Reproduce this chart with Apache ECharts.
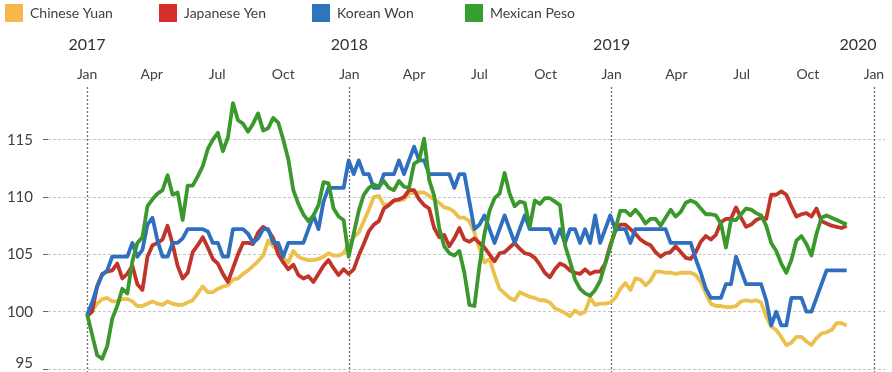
<!DOCTYPE html>
<html><head><meta charset="utf-8">
<script src="https://cdn.jsdelivr.net/npm/echarts@6/dist/echarts.min.js"></script>
<style>html,body{margin:0;padding:0;background:#fff}#c{width:892px;height:372px}</style>
</head><body><div id="c"></div>
<script>
const seriesNames = ['Chinese Yuan', 'Japanese Yen', 'Korean Won', 'Mexican Peso'];
// weekly index values, first week of Jan 2017 = ~100
const yuan = [
99.7,100.1,100.7,101.1,101.2,100.9,100.9,101.1,101.1,100.9,
100.5,100.5,100.7,100.9,100.7,100.6,100.9,100.7,100.6,100.6,
100.8,101.0,101.6,102.2,101.7,101.7,102.0,102.2,102.3,102.8,
102.9,103.3,103.6,104.0,104.4,104.9,106.2,105.7,105.3,104.7,
104.3,105.3,104.8,104.6,104.5,104.5,104.6,104.8,105.1,104.9,
104.9,105.1,105.9,106.5,106.9,107.9,108.9,110.0,110.1,109.3,
109.4,109.7,109.7,109.8,110.3,110.4,110.4,110.4,110.1,109.8,
109.5,109.1,109.0,108.7,108.2,108.2,107.9,106.9,105.5,104.3,
104.6,103.2,102.0,101.6,101.2,101.0,101.7,101.5,101.3,101.2,
101.0,101.0,100.8,100.3,100.1,99.9,99.6,100.1,99.8,100.0,
101.2,100.6,100.7,100.7,100.8,101.2,102.0,102.5,101.9,102.9,
102.8,102.3,102.7,103.5,103.5,103.4,103.4,103.3,103.4,103.4,
103.4,103.2,102.6,101.6,100.7,100.5,100.5,100.4,100.4,100.5,
100.9,101.0,100.9,101.0,100.8,99.6,98.7,98.4,97.8,97.1,
97.3,97.8,97.8,97.4,97.1,97.7,98.1,98.2,98.4,99.0,
99.0,98.8];
const yen = [
99.6,100.0,102.2,103.3,103.5,103.6,104.2,102.9,103.3,104.0,
102.4,101.9,104.8,105.8,106.0,106.3,107.5,105.9,104.0,102.9,
103.4,105.2,105.8,106.5,105.6,104.6,104.2,103.3,102.6,103.8,
105.0,106.0,106.0,105.9,106.9,107.4,107.1,106.4,105.0,104.3,
103.7,104.1,103.2,102.9,103.1,102.6,103.3,104.0,104.5,103.8,
103.2,103.7,103.3,103.7,104.9,105.9,107.0,107.6,107.9,109.0,
109.3,109.7,109.8,110.0,110.6,110.6,109.8,109.3,109.0,107.3,
106.5,106.7,105.7,106.4,107.3,106.3,106.1,106.4,106.0,105.6,
105.0,104.4,105.1,105.2,105.6,106.0,105.5,105.1,105.0,104.7,
104.1,103.4,103.0,103.7,104.2,104.0,103.6,103.4,103.3,103.7,
103.3,103.5,103.5,104.2,105.8,107.0,107.6,107.6,107.2,106.8,
106.3,106.0,105.8,105.2,104.8,105.1,105.2,105.7,105.2,104.7,
104.6,105.2,106.1,106.6,106.3,106.7,107.8,108.1,108.1,109.1,
108.2,107.4,107.6,108.0,108.2,108.1,110.2,110.2,110.5,110.2,
109.2,108.3,108.5,108.6,108.3,109.0,107.9,107.7,107.5,107.4,
107.3,107.5];
const won = [
99.7,100.8,102.2,103.2,103.6,104.8,104.8,104.8,104.8,106.0,
104.8,105.4,107.6,108.2,106.2,104.8,104.8,106.0,106.0,106.4,
107.2,107.2,107.2,107.2,107.0,106.0,106.0,104.8,104.8,107.2,
107.2,107.2,106.8,106.0,106.4,107.2,107.2,106.0,106.0,104.8,
106.0,106.0,106.0,106.0,107.2,108.4,107.2,109.6,110.8,110.8,
110.8,110.8,113.2,112.0,113.2,112.0,112.0,110.8,110.8,112.0,
112.0,112.0,113.2,112.0,113.2,114.4,113.2,113.2,112.0,112.0,
112.0,112.0,112.0,110.8,112.0,112.0,109.6,107.2,107.6,108.4,
107.2,106.0,107.2,108.4,107.2,106.0,107.2,108.4,107.2,107.2,
107.2,107.2,107.2,106.0,107.2,106.0,107.2,107.2,106.0,107.2,
106.0,108.4,106.0,107.2,108.4,107.2,107.2,107.2,106.0,107.2,
107.2,107.2,107.2,107.2,107.2,107.2,106.0,106.0,106.0,106.0,
106.0,104.6,103.4,102.0,101.2,101.2,101.2,102.4,102.4,104.8,
103.6,102.4,102.4,102.4,102.4,101.0,98.8,100.0,98.8,98.8,
101.2,101.2,101.2,100.0,100.0,101.2,102.4,103.6,103.6,103.6,
103.6,103.6];
const peso = [
99.8,98.0,96.2,95.9,97.0,99.4,100.5,102.0,101.6,104.4,
106.0,106.5,109.2,109.8,110.3,110.6,111.9,110.2,110.4,108.0,
111.0,111.0,111.8,112.7,114.2,115.0,115.6,114.0,115.2,118.2,
116.7,116.4,115.7,116.4,117.3,115.8,116.0,116.9,116.5,115.0,
113.3,110.6,109.4,108.5,107.9,108.4,109.3,111.3,111.2,109.0,
108.3,108.0,104.8,106.8,108.8,110.2,110.8,111.1,110.9,111.4,
110.8,110.6,111.4,110.9,110.8,112.9,113.2,115.1,111.5,110.1,
107.3,105.7,105.1,104.9,105.3,103.4,100.6,100.5,104.0,106.8,
108.8,109.9,110.3,112.1,110.3,109.2,109.6,109.5,107.4,109.7,
109.4,109.9,109.9,109.6,109.3,105.8,104.4,102.8,102.0,101.6,
101.4,101.9,102.7,104.2,105.6,107.2,108.8,108.8,108.4,108.9,
108.4,107.7,108.1,108.1,107.5,108.2,108.9,108.3,108.7,109.5,
109.7,109.5,109.0,108.5,108.5,108.4,107.7,105.6,108.0,108.0,
108.5,109.0,108.9,108.6,108.4,107.5,106.0,105.3,104.2,103.4,
104.5,106.2,106.6,105.9,104.9,106.8,108.2,108.4,108.2,108.0,
107.8,107.6];
const monthNames = ['Jan', 'Apr', 'Jul', 'Oct'];
const monthNums = [0, 3, 6, 9];
const yearLabels = [2017, 2018, 2019, 2020];
const yTicks = [95, 100, 105, 110, 115];

const legendColors = ['#f7b84b', '#d62f2b', '#2e74bf', '#35a02e'];
const lineColors = ['#ebc04c', '#c0352a', '#2e6fbf', '#3a982c'];

function frac(y, m, d) {
  const s = Date.UTC(y, 0, 1), e = Date.UTC(y + 1, 0, 1);
  return y + (Date.UTC(y, m, d) - s) / (e - s);
}
const weekX = yuan.map((_, i) => {
  const t = new Date(Date.UTC(2017, 0, 1) + i * 7 * 864e5);
  return frac(t.getUTCFullYear(), t.getUTCMonth(), t.getUTCDate());
});
const monthTicks = [];
yearLabels.forEach(y => monthNums.forEach(m => {
  if (y === yearLabels[yearLabels.length - 1] && m > 0) return;
  monthTicks.push(frac(y, m, 1));
}));
function monthFmt(v) {
  const y = Math.floor(v + 1e-6);
  const idx = Math.round((v - y) * 4) % 4;
  return monthNames[idx];
}
const lastYear = yearLabels[yearLabels.length - 1];
function yearFmt(v) {
  const y = Math.round(v);
  return y === lastYear ? '{r|' + y + '}' : String(y);
}
function yFmt(v) {
  return v === yTicks[0] ? '{lo|' + v + '}' : String(v);
}

const FONT = 'Lato';
const allData = [yuan, yen, won, peso];
const chart = echarts.init(document.getElementById('c'), null, { renderer: 'canvas' });
const legendLefts = [5, 159, 312, 465];
chart.setOption({
  animation: false,
  backgroundColor: '#fff',
  textStyle: { fontFamily: FONT },
  legend: seriesNames.map((n, i) => ({
    data: [n], left: legendLefts[i], top: 4, padding: 0,
    icon: 'rect', itemWidth: 18, itemHeight: 18,
    textStyle: { fontFamily: FONT, fontSize: 14, color: '#404040', padding: [0, 0, 0, 2] }
  })),
  grid: { left: 48, right: 7, top: 87, height: 293.5, containLabel: false, outerBoundsMode: 'none' },
  xAxis: [
    {
      type: 'value', position: 'top', min: 2016.851, max: 2020.042,
      axisLine: { show: false }, axisTick: { show: false },
      splitLine: { show: false },
      axisLabel: { customValues: monthTicks, formatter: monthFmt, margin: 6,
        fontFamily: FONT, fontSize: 14, color: '#404040', showMinLabel: true, showMaxLabel: true }
    },
    {
      type: 'value', position: 'top', min: 2016.851, max: 2020.042, offset: 28,
      axisLine: { show: false },
      axisTick: { show: false, customValues: yearLabels },
      splitLine: { show: true, lineStyle: { color: '#6e6e6e', type: [2, 2], width: 1.3 } },
      axisLabel: { customValues: yearLabels, formatter: yearFmt, margin: 6,
        fontFamily: FONT, fontSize: 16, color: '#333', showMinLabel: true, showMaxLabel: true,
        rich: { r: { padding: [0, 32, 0, 0], fontFamily: FONT, fontSize: 16, color: '#333' } } }
    }
  ],
  yAxis: {
    type: 'value', min: 94, max: 119.6,
    axisLine: { show: false },
    axisTick: { show: true, length: 5, customValues: yTicks, lineStyle: { color: '#666' } },
    axisLabel: { customValues: yTicks, formatter: yFmt, margin: 15, fontFamily: FONT, fontSize: 15, color: '#404040',
      rich: { lo: { padding: [0, 0, 12, 0], fontFamily: FONT, fontSize: 15, color: '#404040' } } },
    splitLine: { show: true, lineStyle: { color: '#c4c4c4', type: [3, 2], width: 1 } }
  },
  series: seriesNames.map((n, i) => ({
    name: n, type: 'line', xAxisIndex: 0,
    data: allData[i].map((v, k) => [weekX[k], v]),
    showSymbol: false, symbol: 'none',
    color: legendColors[i],
    itemStyle: { color: legendColors[i] },
    lineStyle: { color: lineColors[i], width: 3.8, join: 'round' }
  }))
});
</script></body></html>
